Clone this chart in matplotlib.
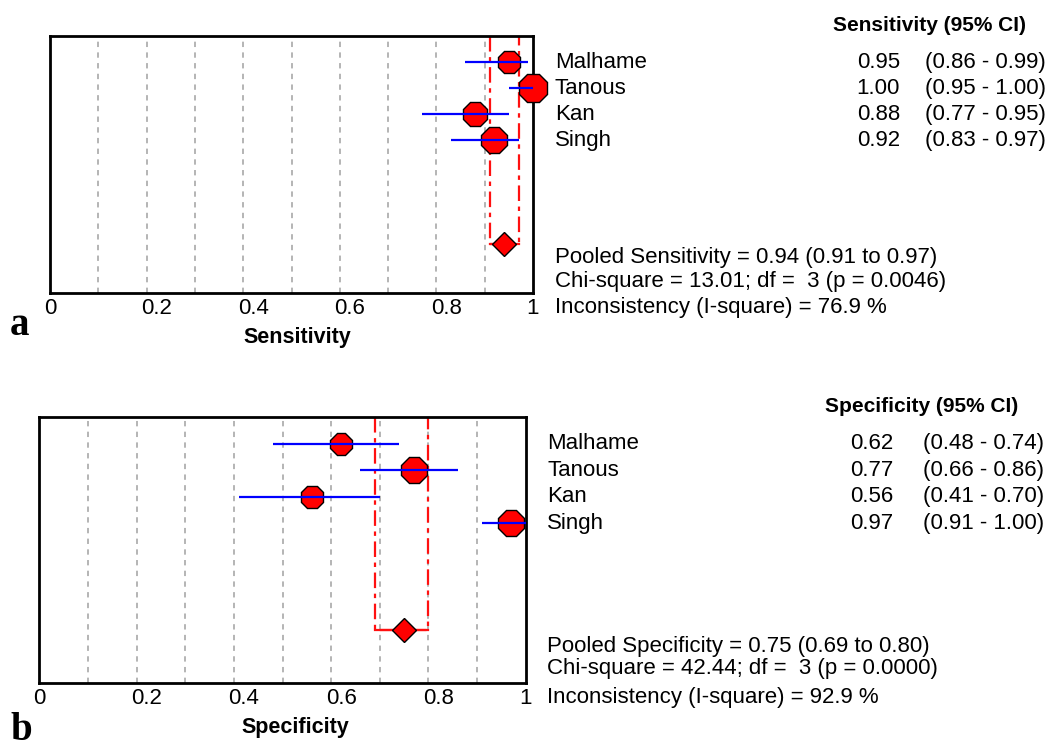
import numpy as np
import matplotlib
matplotlib.use('Agg')
import matplotlib.pyplot as plt
from matplotlib.transforms import ScaledTranslation

plt.rcParams['font.family'] = ['Liberation Sans', 'DejaVu Sans']

studies = ['Malhame', 'Tanous', 'Kan', 'Singh']

sens = [0.95, 1.00, 0.88, 0.92]
sens_lo = [0.86, 0.95, 0.77, 0.83]
sens_hi = [0.99, 1.00, 0.95, 0.97]
sens_pooled = 0.94
sens_pooled_ci = (0.91, 0.97)
sens_stats = ['Pooled Sensitivity = 0.94 (0.91 to 0.97)',
              'Chi-square = 13.01; df =  3 (p = 0.0046)',
              'Inconsistency (I-square) = 76.9 %']

spec = [0.62, 0.77, 0.56, 0.97]
spec_lo = [0.48, 0.66, 0.41, 0.91]
spec_hi = [0.74, 0.86, 0.70, 1.00]
spec_pooled = 0.75
spec_pooled_ci = (0.69, 0.80)
spec_stats = ['Pooled Specificity = 0.75 (0.69 to 0.80)',
              'Chi-square = 42.44; df =  3 (p = 0.0000)',
              'Inconsistency (I-square) = 92.9 %']

tick_vals = [0, 0.2, 0.4, 0.6, 0.8, 1]
tick_labels = ['0', '0.2', '0.4', '0.6', '0.8', '1']

# marker sizes (study weights, in points)
sens_ms = [17.5, 22, 18, 20]
spec_ms = [16.5, 20, 17.5, 20]

W, H = 1056, 747
fig = plt.figure(figsize=(W / 100, H / 100), dpi=100)


def px_axes(left, top, right, bottom):
    return fig.add_axes([left / W, 1 - bottom / H, (right - left) / W,
                         (bottom - top) / H])


def forest(ax, vals, lo, hi, pooled, pci, ms, ybottom, xlabel, xlab_pos,
           header, header_y, stats, stats_y, x_name, x_val, x_ci, x_head):
    y = np.arange(1, len(vals) + 1)
    ax.set_xlim(0, 1)
    ax.set_ylim(ybottom, 0)

    # dashed grey grid every 0.1
    for g in np.arange(0.1, 0.95, 0.1):
        ax.axvline(g, color='#a0a0a0', lw=1.1, dashes=(3.5, 3.5), zorder=1)

    # pooled CI bracket
    ypool = 8
    ax.plot([pci[0], pci[0], pci[1], pci[1]], [0, ypool, ypool, 0],
            color='#ff1010', lw=1.6, dashes=(7, 2.5, 2, 2.5), zorder=2)
    ax.plot([pci[0], pci[1]], [ypool, ypool], color='#ff1010', lw=1.6,
            zorder=2)

    for yi, v, m in zip(y, vals, ms):
        ax.plot(v, yi, marker='8', ms=m, mfc='#ff0000', mec='black',
                mew=1.0, ls='none', zorder=3, clip_on=False)
    ax.hlines(y, lo, hi, color='#0000ff', lw=1.6, zorder=4)
    ax.plot(pooled, ypool, marker='D', ms=12, mfc='#ff0000', mec='black',
            mew=1.0, ls='none', zorder=5)

    for s in ax.spines.values():
        s.set_linewidth(2)
    ax.set_xticks([])
    ax.set_yticks([])

    off = ScaledTranslation(0, -0.16, fig.dpi_scale_trans)
    for tv, tl in zip(tick_vals, tick_labels):
        shift = 0.0 if tl in ('0', '1') else 0.1
        tr = ax.get_xaxis_transform() + off + \
            ScaledTranslation(shift, 0, fig.dpi_scale_trans)
        ax.text(tv, 0, tl, transform=tr, ha='center', va='center',
                fontsize=16)
    ax.text(xlab_pos, 0, xlabel, transform=ax.get_xaxis_transform() +
            ScaledTranslation(0, -0.45, fig.dpi_scale_trans),
            ha='center', va='center', fontsize=15.5, fontweight='bold')

    tr = ax.get_yaxis_transform()
    ax.text(x_head, header_y, header, transform=tr, ha='left',
            va='center', fontsize=15, fontweight='bold', clip_on=False)
    for yi, name, v, l, h in zip(y, studies, vals, lo, hi):
        ax.text(x_name, yi, name, transform=tr, ha='left', va='center',
                fontsize=16, clip_on=False)
        ax.text(x_val, yi, f'{v:.2f}', transform=tr, ha='right',
                va='center', fontsize=16, clip_on=False)
        ax.text(x_ci, yi, f'({l:.2f} - {h:.2f})', transform=tr, ha='left',
                va='center', fontsize=16, clip_on=False)
    for sy, st in zip(stats_y, stats):
        ax.text(x_name, sy, st, transform=tr, ha='left', va='center',
                fontsize=16, clip_on=False)


ax1 = px_axes(50, 36, 533, 293)
forest(ax1, sens, sens_lo, sens_hi, sens_pooled, sens_pooled_ci, sens_ms,
       9.88, 'Sensitivity', 0.513, 'Sensitivity (95% CI)', -0.42,
       sens_stats, [8.5, 9.42, 10.42], 1.0455, 1.760, 1.8116, 1.621)

ax2 = px_axes(39.3, 417, 525.7, 683)
forest(ax2, spec, spec_lo, spec_hi, spec_pooled, spec_pooled_ci, spec_ms,
       10.0, 'Specificity', 0.526, 'Specificity (95% CI)', -0.376,
       spec_stats, [8.64, 9.47, 10.53], 1.0438, 1.755, 1.817, 1.6153)

fig.text(10 / W, 1 - 335 / H, 'a', family='Liberation Serif',
         fontweight='bold', fontsize=28, ha='left', va='baseline')
fig.text(10 / W, 1 - 740 / H, 'b', family='Liberation Serif',
         fontweight='bold', fontsize=28, ha='left', va='baseline')

fig.savefig('out.png', dpi=100)
